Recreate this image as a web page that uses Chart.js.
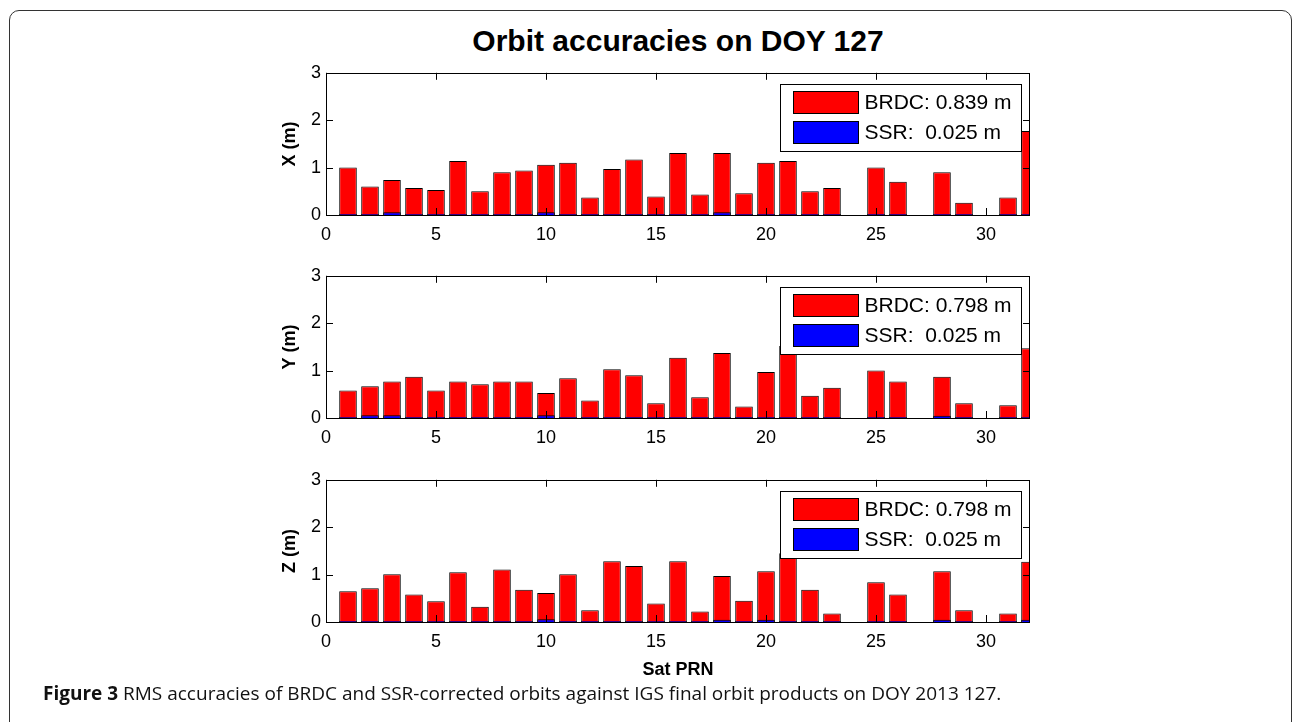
<!DOCTYPE html>
<html>
<head>
<meta charset="utf-8">
<script src="https://cdn.jsdelivr.net/npm/chart.js@4.4.0/dist/chart.umd.min.js"></script>
<style>
  body { margin: 0; background: #fff; width: 1292px; height: 722px; overflow: hidden; position: relative;
         font-family: "Liberation Sans", Arial, sans-serif; }
  #frame { position: absolute; left: 9px; top: 10px; width: 1283px; height: 800px;
           border: 1.5px solid #333; border-radius: 10px; box-sizing: border-box; }
  #title { position: absolute; left: 326px; width: 704px; top: 24px; line-height: 34px;
           text-align: center; font-weight: bold; font-size: 30px; }
  .panel { position: absolute; left: 250px; }
  #caption { position: absolute; left: 43px; top: 682px; line-height: 22px;
             font-family: "Open Sans", sans-serif; font-size: 19px; color: #111; }
</style>
</head>
<body>
<div id="frame"></div>
<div id="title">Orbit accuracies on DOY 127</div>
<canvas id="panelX" class="panel" width="800" height="193" style="top:57px"></canvas>
<canvas id="panelY" class="panel" width="800" height="193" style="top:260px"></canvas>
<canvas id="panelZ" class="panel" width="800" height="223" style="top:464px"></canvas>
<div id="caption"><b>Figure 3</b> RMS accuracies of BRDC and SSR-corrected orbits against IGS final orbit products on DOY 2013 127.</div>

<script>
// satellite PRN numbers
const prn = [1, 2, 3, 4, 5, 6, 7, 8, 9, 10, 11, 12, 13, 14, 15, 16,
             17, 18, 19, 20, 21, 22, 23, 24, 25, 26, 27, 28, 29, 30, 31, 32];
const xTicks = [0, 5, 10, 15, 20, 25, 30];
const yTicks = [0, 1, 2, 3];
const axisNames = ['X (m)', 'Y (m)', 'Z (m)'];

// RMS per satellite (m)
const brdcX = [1.00, 0.60, 0.74, 0.57, 0.53, 1.14, 0.50, 0.90, 0.94, 1.06, 1.10, 0.37, 0.97, 1.17, 0.39, 1.31,
               0.43, 1.31, 0.46, 1.10, 1.14, 0.50, 0.57, 0, 1.00, 0.70, 0, 0.90, 0.26, 0, 0.37, 1.77];
const ssrX  = [0.02, 0.02, 0.06, 0.02, 0.02, 0.02, 0.02, 0.02, 0.02, 0.06, 0.02, 0.02, 0.02, 0.02, 0.02, 0.02,
               0.02, 0.06, 0.02, 0.02, 0.02, 0.02, 0.02, 0, 0.02, 0.02, 0, 0.02, 0.02, 0, 0.02, 0.02];
const brdcY = [0.58, 0.67, 0.77, 0.87, 0.58, 0.77, 0.71, 0.77, 0.77, 0.53, 0.84, 0.37, 1.03, 0.90, 0.31, 1.27,
               0.44, 1.37, 0.24, 0.97, 1.52, 0.47, 0.64, 0, 1.00, 0.77, 0, 0.87, 0.31, 0, 0.27, 1.47];
const ssrY  = [0.02, 0.06, 0.06, 0.02, 0.02, 0.02, 0.02, 0.02, 0.02, 0.06, 0.02, 0.02, 0.02, 0.02, 0.02, 0.02,
               0.02, 0.02, 0.02, 0.02, 0.02, 0.02, 0.02, 0, 0.02, 0.02, 0, 0.05, 0.02, 0, 0.02, 0.02];
const brdcZ = [0.65, 0.71, 1.01, 0.58, 0.44, 1.05, 0.32, 1.11, 0.68, 0.61, 1.01, 0.25, 1.28, 1.18, 0.39, 1.28,
               0.22, 0.97, 0.45, 1.07, 1.45, 0.68, 0.18, 0, 0.84, 0.58, 0, 1.07, 0.25, 0, 0.18, 1.27];
const ssrZ  = [0.02, 0.02, 0.02, 0.02, 0.02, 0.02, 0.02, 0.02, 0.02, 0.06, 0.02, 0.02, 0.02, 0.02, 0.02, 0.02,
               0.02, 0.05, 0.02, 0.05, 0.02, 0.02, 0.02, 0, 0.02, 0.02, 0, 0.05, 0.02, 0, 0.02, 0.05];
// mean RMS shown in the legends
const brdcRms = [0.839, 0.798, 0.798];
const ssrRms = [0.025, 0.025, 0.025];

Chart.defaults.font.family = "'Liberation Sans', Arial, sans-serif";
Chart.defaults.color = '#000';

// matlab style box with inward ticks
const boxTicks = {
  id: 'boxTicks',
  afterDatasetsDraw(chart) {
    const ctx = chart.ctx, a = chart.chartArea;
    const x = chart.scales.x, y = chart.scales.y;
    ctx.save();
    ctx.strokeStyle = '#000';
    ctx.lineWidth = 1;
    ctx.beginPath();
    xTicks.forEach(function(t) {
      const px = Math.round(x.getPixelForValue(t)) + 0.5;
      ctx.moveTo(px, a.bottom); ctx.lineTo(px, a.bottom - 7);
      ctx.moveTo(px, a.top); ctx.lineTo(px, a.top + 7);
    });
    yTicks.forEach(function(t) {
      const py = Math.round(y.getPixelForValue(t)) + 0.5;
      ctx.moveTo(a.left, py); ctx.lineTo(a.left + 7, py);
      ctx.moveTo(a.right, py); ctx.lineTo(a.right - 7, py);
    });
    ctx.stroke();
    ctx.strokeRect(Math.round(a.left) + 0.5, Math.round(a.top) + 0.5,
                   Math.round(a.width) - 1, Math.round(a.height));
    ctx.restore();
  }
};

// legend box inside the plot, top right
const boxLegend = {
  id: 'boxLegend',
  afterDraw(chart) {
    const ctx = chart.ctx, a = chart.chartArea;
    const left = Math.round(a.right) - 250 + 0.5, top = Math.round(a.top) + 11 + 0.5;
    ctx.save();
    ctx.fillStyle = '#fff';
    ctx.fillRect(left, top, 241, 67);
    ctx.strokeStyle = '#000';
    ctx.lineWidth = 1;
    ctx.strokeRect(left, top, 241, 67);
    chart.data.datasets.slice().reverse().forEach(function(ds, i) {
      const sy = top + 7 + i * 30;
      ctx.fillStyle = ds.backgroundColor;
      ctx.fillRect(left + 13, sy, 65, 22);
      ctx.strokeRect(left + 13, sy, 65, 22);
      ctx.fillStyle = '#000';
      ctx.font = "21px 'Liberation Sans', Arial, sans-serif";
      ctx.textBaseline = 'middle';
      ctx.fillText(ds.label, left + 84, sy + 12);
    });
    ctx.restore();
  }
};

function makePanel(id, name, brdc, ssr, bRms, sRms, withXTitle) {
  const xHeight = withXTitle ? 65 : 35;
  new Chart(document.getElementById(id), {
    type: 'bar',
    data: {
      datasets: [
        {
          label: 'SSR:  ' + sRms.toFixed(3) + ' m',
          data: prn.map(function(p, i) { return { x: p, y: ssr[i] }; }),
          backgroundColor: '#0000ff',
          order: 0
        },
        {
          label: 'BRDC: ' + bRms.toFixed(3) + ' m',
          data: prn.map(function(p, i) { return { x: p, y: brdc[i] }; }),
          backgroundColor: '#ff0000',
          order: 1
        }
      ]
    },
    options: {
      responsive: false,
      animation: false,
      events: [],
      layout: { padding: { left: 0, right: 20, top: 12, bottom: 0 } },
      datasets: {
        bar: {
          borderColor: '#000',
          borderWidth: 1,
          barPercentage: 0.8,
          categoryPercentage: 1,
          grouped: false,
          clip: 0
        }
      },
      plugins: { legend: { display: false }, tooltip: { enabled: false } },
      scales: {
        x: {
          type: 'linear',
          min: 0,
          max: 32,
          offset: false,
          grid: { display: false, drawTicks: false, offset: false },
          border: { display: false },
          ticks: { font: { size: 18 }, padding: 9, maxRotation: 0 },
          title: {
            display: withXTitle,
            text: 'Sat PRN',
            font: { size: 18, weight: 'bold' },
            padding: { top: 0, bottom: 6 }
          },
          afterBuildTicks: function(s) { s.ticks = xTicks.map(function(v) { return { value: v }; }); },
          afterFit: function(s) { s.height = xHeight; }
        },
        y: {
          min: 0,
          max: 3,
          grid: { display: false, drawTicks: false },
          border: { display: false },
          ticks: { font: { size: 18 }, padding: 5 },
          title: {
            display: true,
            text: name,
            font: { size: 18, weight: 'bold' },
            padding: { top: 29, bottom: 0 }
          },
          afterBuildTicks: function(s) { s.ticks = yTicks.map(function(v) { return { value: v }; }); },
          afterFit: function(s) { s.width = 76; }
        }
      }
    },
    plugins: [boxTicks, boxLegend]
  });
}

makePanel('panelX', axisNames[0], brdcX, ssrX, brdcRms[0], ssrRms[0], false);
makePanel('panelY', axisNames[1], brdcY, ssrY, brdcRms[1], ssrRms[1], false);
makePanel('panelZ', axisNames[2], brdcZ, ssrZ, brdcRms[2], ssrRms[2], true);
</script>
</body>
</html>
